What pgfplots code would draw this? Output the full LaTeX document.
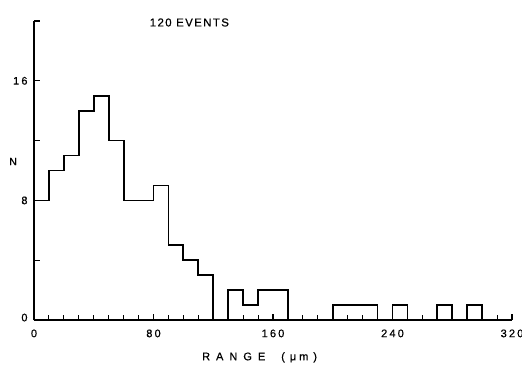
\documentclass[border=0pt]{standalone}
\usepackage{fontspec}
\setmainfont{Liberation Sans}
\newfontfamily\lfont[LetterSpace=20,FakeBold=0.6]{Liberation Sans}
\newfontfamily\tfont[LetterSpace=12,FakeBold=0.6]{Liberation Sans}
\newfontfamily\rfont[LetterSpace=55,FakeBold=0.6]{Liberation Sans}
\usepackage{pgfplots}
\pgfplotsset{compat=1.18}
\begin{document}
\begin{tikzpicture}[x=1bp,y=1bp]
\useasboundingbox (0,0) rectangle (522,365);
\begin{axis}[
  at={(34bp,45bp)}, anchor=south west,
  width=478bp, height=299bp, scale only axis,
  xmin=0, xmax=320, ymin=0, ymax=20,
  axis x line*=bottom, axis y line*=left,
  axis line style={-, line width=1.6pt},
  xtick={0,80,160,240,320}, minor x tick num=7,
  ytick={0,4,8,12,16,20}, yticklabels={\raisebox{5bp}{0},,8,,16,},
  tick align=inside,
  major tick length=6bp, minor tick length=5bp,
  tick style={line width=1.1pt, black},
  /pgf/number format/assume math mode=true,
  ticklabel style={font=\lfont\fontsize{11}{13}\selectfont},
  xticklabel style={yshift=-6bp},
  yticklabel style={xshift=-3bp},
  clip=false,
]
\addplot[const plot, black, line width=1.8pt] coordinates {
  (0,0) (0,8) (10,10) (20,11) (30,14) (40,15) (50,12) (60,8) (70,8)
  (80,9) (90,5) (100,4) (110,3) (120,0) (130,2) (140,1) (150,2) (160,2)
  (170,0) (180,0) (190,0) (200,1) (210,1) (220,1) (230,0) (240,1) (250,0)
  (260,0) (270,1) (280,0) (290,1) (300,0)
};
\node[font=\tfont\fontsize{11.5}{13}\selectfont] at (axis cs:104,19.9) {120 EVENTS};
\node[font=\lfont\fontsize{10.5}{12}\selectfont] at (axis cs:-14,10.6) {N};
\node[font=\rfont\fontsize{11}{13}\selectfont] at (axis cs:151,-2.5) {RANGE\hspace{16bp}(\hspace{5bp}μ\hspace{3bp}m\hspace{5bp})};
\end{axis}
\end{tikzpicture}
\end{document}
